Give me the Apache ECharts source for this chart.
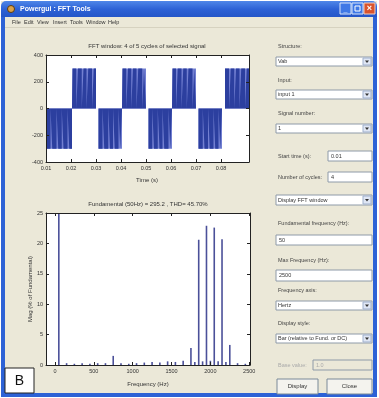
<!DOCTYPE html>
<html><head><meta charset="utf-8">
<script src="https://cdn.jsdelivr.net/npm/echarts@6/dist/echarts.min.js"></script>
<style>html,body{margin:0;padding:0;background:#fff}#c{width:379px;height:398px}</style>
</head><body><div id="c"></div>
<script>
// ---------- data ----------
var timeTicks = [0.01, 0.02, 0.03, 0.04, 0.05, 0.06, 0.07, 0.08];
var signalYTicks = [-400, -200, 0, 200, 400];
var signalSegStart = [0.0100, 0.0206, 0.0310, 0.0406, 0.0510, 0.0606, 0.0710, 0.0816];
var signalSegEnd   = [0.0204, 0.0300, 0.0404, 0.0500, 0.0604, 0.0700, 0.0804, 0.0912];
var signalLevel    = [-300, 300, -300, 300, -300, 300, -300, 300];
var signalNotches = [
  [0.0118, 0.0142, 0.0163, 0.0186],
  [0.0221, 0.0243, 0.0262, 0.0284],
  [0.0326, 0.0349, 0.0368, 0.0390],
  [0.0421, 0.0441, 0.0462, 0.0485],
  [0.0525, 0.0547, 0.0566, 0.0590],
  [0.0620, 0.0642, 0.0663, 0.0686],
  [0.0727, 0.0748, 0.0770, 0.0790],
  [0.0832, 0.0853, 0.0874, 0.0896]
];
var notchWidth = 0.0007;
var freqTicks = [0, 500, 1000, 1500, 2000, 2500];
var magTicks = [0, 5, 10, 15, 20, 25];
var harmFreqs = [50, 150, 250, 350, 450, 550, 650, 750, 850, 950, 1050, 1150, 1250, 1350, 1450, 1550, 1650, 1750, 1800, 1850, 1900, 1950, 2000, 2050, 2100, 2150, 2200, 2250, 2350, 2450];
var harmMags  = [100, 0.3, 0.2, 0.3, 0.2, 0.3, 0.3, 1.5, 0.3, 0.2, 0.3, 0.4, 0.5, 0.4, 0.6, 0.5, 0.7, 2.8, 0.5, 20.6, 0.6, 22.9, 0.7, 22.6, 0.6, 20.7, 0.5, 3.3, 0.3, 0.2];
var titleTop = 'FFT window: 4 of 5 cycles of selected signal';
var titleBottom = 'Fundamental (50Hz) = 295.2 , THD= 45.70%';

// ---------- build series ----------
var sigBlocks = [], sigPulses = [];
for (var i = 0; i < signalSegStart.length; i++) {
  var L = signalLevel[i];
  sigBlocks.push([signalSegStart[i], 0], [signalSegStart[i], L], [signalSegEnd[i], L], [signalSegEnd[i], 0]);
  sigPulses.push([signalSegStart[i], 0], [signalSegStart[i], L]);
  signalNotches[i].forEach(function (n) {
    sigPulses.push([n, L], [n, 0], [n + notchWidth, 0], [n + notchWidth, L]);
  });
  sigPulses.push([signalSegEnd[i], L], [signalSegEnd[i], 0]);
}
var bars = harmFreqs.map(function (f, i) { return [f, harmMags[i]]; });

// ---------- GUI chrome ----------
var FONT = 'Liberation Sans';
var g = [];
function rect(x, y, w, h, fill, stroke, z) {
  g.push({type: 'rect', shape: {x: x, y: y, width: w, height: h}, style: {fill: fill, stroke: stroke || null, lineWidth: stroke ? 1 : 0}, z: z || 1, silent: true});
}
function text(x, y, t, size, color, opts) {
  opts = opts || {};
  g.push({type: 'text', x: x, y: y, style: {text: t, fontSize: size, fill: color, fontFamily: FONT, fontWeight: opts.bold ? 'bold' : 'normal', align: opts.align || 'left', verticalAlign: 'middle'}, z: opts.z || 10, silent: true});
}
// window background
rect(0, 0, 379, 398, '#ffffff', null, 0);
rect(1, 1, 376, 396, '#ebe8d8', null, 0);
// title bar
g.push({type: 'rect', shape: {x: 1, y: 1, width: 376, height: 16, r: [5, 5, 0, 0]}, style: {fill: new echarts.graphic.LinearGradient(0, 0, 0, 1, [{offset: 0, color: '#4f86e8'}, {offset: 0.5, color: '#2d62d6'}, {offset: 1, color: '#2456c8'}])}, z: 1, silent: true});
g.push({type: 'circle', shape: {cx: 11, cy: 9, r: 3.5}, style: {fill: '#d9a24a', stroke: '#5a3a10', lineWidth: 1}, z: 5, silent: true});
text(20, 9, 'Powergui : FFT Tools', 7, '#ffffff', {bold: true});
rect(340, 3, 11, 11, '#3f78e6', '#d8e4fa', 5);
rect(352, 3, 11, 11, '#3f78e6', '#d8e4fa', 5);
rect(364, 3, 11, 11, '#d9532c', '#f2d0c0', 5);
text(345.5, 10, '_', 7, '#fff', {bold: true, align: 'center'});
rect(355, 6, 5, 5, null, '#ffffff', 6);
text(369.5, 8.5, '×', 9, '#fff', {bold: true, align: 'center'});
// borders
rect(1, 17, 4, 380, '#2d62d6', null, 1);
rect(373, 17, 4, 380, '#2d62d6', null, 1);
rect(1, 393, 376, 4, '#2d62d6', null, 1);
// menu bar
var menu = [['File', 12], ['Edit', 24], ['View', 37], ['Insert', 53], ['Tools', 70], ['Window', 86], ['Help', 108]];
menu.forEach(function (m) { text(m[1], 22, m[0], 5.5, '#333'); });
rect(5, 27, 368, 1, '#d6d2c0', null, 1);

// right panel controls
function dropdown(x, y, w, h, t) {
  rect(x, y, w, h, '#ffffff', '#8e9aa8', 1);
  text(x + 2, y + h / 2, t, 5.5, '#333');
  rect(x + w - 9, y + 1, 8, h - 2, '#dfe6f4', '#9fb0cc', 1);
  g.push({type: 'polygon', shape: {points: [[x + w - 7, y + h / 2 - 1], [x + w - 3, y + h / 2 - 1], [x + w - 5, y + h / 2 + 1.5]]}, style: {fill: '#333'}, z: 5, silent: true});
}
function input(x, y, w, h, t, disabled) {
  rect(x, y, w, h, disabled ? '#ebe8d8' : '#ffffff', '#8e9aa8', 1);
  text(x + 3, y + h / 2, t, 5.5, disabled ? '#aaa' : '#333');
}
function button(x, y, w, h, t) {
  rect(x, y, w, h, '#f4f3ee', '#7a8a99', 1);
  text(x + w / 2, y + h / 2, t, 6, '#333', {align: 'center'});
}
text(278, 46, 'Structure:', 5.5, '#444');
dropdown(276, 57, 96, 9, 'Vab');
text(278, 80, 'Input:', 5.5, '#444');
dropdown(276, 90, 96, 9, 'input 1');
text(278, 113, 'Signal number:', 5.5, '#444');
dropdown(276, 124, 96, 9, '1');
text(278, 156, 'Start time (s):', 5.5, '#444');
input(328, 151, 44, 10, '0.01');
text(278, 177, 'Number of cycles:', 5.5, '#444');
input(328, 172, 44, 10, '4');
dropdown(276, 195, 96, 10, 'Display FFT window');
text(278, 223, 'Fundamental frequency (Hz):', 5.5, '#444');
input(276, 235, 96, 10, '50');
text(278, 260, 'Max Frequency (Hz):', 5.5, '#444');
input(276, 270, 96, 11, '2500');
text(278, 290, 'Frequency axis:', 5.5, '#444');
dropdown(276, 301, 96, 9, 'Hertz');
text(278, 323, 'Display style:', 5.5, '#444');
dropdown(276, 334, 96, 9, 'Bar (relative to Fund. or DC)');
text(278, 365, 'Base value:', 5.5, '#aaa');
input(313, 360, 59, 10, '1.0', true);
button(277, 379, 41, 15, 'Display');
button(327, 379, 45, 15, 'Close');
// B label
rect(5, 368, 29, 25, '#ffffff', '#222', 20);
text(19.5, 381, 'B', 14, '#111', {align: 'center', z: 21});

// plot titles and names
text(147, 46, titleTop, 6, '#333', {align: 'center'});
text(148, 204, titleBottom, 6, '#333', {align: 'center'});
text(147, 180, 'Time (s)', 6, '#333', {align: 'center'});
text(148, 384, 'Frequency (Hz)', 6, '#333', {align: 'center'});
g.push({type: 'text', x: 30, y: 289, rotation: Math.PI / 2, style: {text: 'Mag (% of Fundamental)', fontSize: 6, fill: '#333', fontFamily: FONT, align: 'center', verticalAlign: 'middle'}, z: 10, silent: true});

// ---------- chart ----------
var lab = {fontSize: 5.5, color: '#333', fontFamily: FONT, margin: 3};
var axLine = {show: true, onZero: false, lineStyle: {color: '#222', width: 1}};
var tickIn = {show: true, inside: true, length: 3, lineStyle: {color: '#222'}};
function xa(grid, pos, min, max, ticks, fmt) {
  return {type: 'value', gridIndex: grid, position: pos, min: min, max: max, z: 8,
    axisLine: axLine, axisTick: Object.assign({customValues: ticks}, tickIn), splitLine: {show: false},
    axisLabel: pos === 'bottom' ? Object.assign({customValues: ticks, formatter: fmt}, lab) : {show: false}};
}
function ya(grid, pos, min, max, iv) {
  return {type: 'value', gridIndex: grid, position: pos, min: min, max: max, interval: iv, z: 8,
    axisLine: axLine, axisTick: tickIn, splitLine: {show: false},
    axisLabel: pos === 'left' ? lab : {show: false}};
}
var opt = {
  animation: false,
  backgroundColor: 'transparent',
  graphic: g,
  grid: [
    {left: 46, top: 55, width: 203, height: 107, backgroundColor: '#ffffff', show: true, borderWidth: 0, z: 3},
    {left: 46, top: 213, width: 204, height: 152, backgroundColor: '#ffffff', show: true, borderWidth: 0, z: 3}
  ],
  xAxis: [
    xa(0, 'bottom', 0.01, 0.0912, timeTicks, function (v) { return v.toFixed(2); }),
    xa(0, 'top', 0.01, 0.0912, timeTicks),
    xa(1, 'bottom', -115, 2510, freqTicks, function (v) { return String(v); }),
    xa(1, 'top', -115, 2510, freqTicks)
  ],
  yAxis: [
    ya(0, 'left', -400, 400, 200), ya(0, 'right', -400, 400, 200),
    ya(1, 'left', 0, 25, 5), ya(1, 'right', 0, 25, 5)
  ],
  series: [
    {type: 'line', xAxisIndex: 0, yAxisIndex: 0, data: sigBlocks, showSymbol: false, symbol: 'none', clip: true, z: 5,
      lineStyle: {width: 0}, areaStyle: {color: '#7380d2', opacity: 1}},
    {type: 'line', xAxisIndex: 0, yAxisIndex: 0, data: sigPulses, showSymbol: false, symbol: 'none', clip: true, z: 6,
      lineStyle: {width: 0}, areaStyle: {color: '#2c3f9f', opacity: 1}},
    {type: 'bar', xAxisIndex: 2, yAxisIndex: 2, data: bars, barWidth: 1.6, clip: true, z: 6,
      itemStyle: {color: '#4b5099'}}
  ]
};
var chart = echarts.init(document.getElementById('c'), null, {renderer: 'canvas', width: 379, height: 398});
chart.setOption(opt);
</script></body></html>
